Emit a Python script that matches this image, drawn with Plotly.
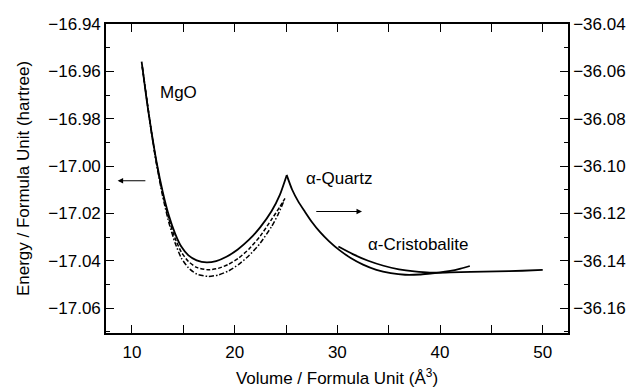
import plotly.graph_objects as go

# MgO curves (left axis, hartree)
mgo_solid_x = [10.94, 11.43, 11.92, 12.4, 13.0, 13.6, 14.2, 14.8, 15.5, 16.3, 17.27, 18.2, 19.2, 20.3,
               21.4, 22.5, 23.6, 24.4, 25.06]
mgo_solid_y = [-16.9559, -16.9720, -16.9861, -16.9985, -17.0110, -17.0210, -17.0285, -17.0340, -17.0377,
               -17.0398, -17.0407, -17.0401, -17.0383, -17.0352, -17.0311, -17.0258, -17.0190, -17.0122, -17.0040]

mgo_dash_x = [11.0, 11.92, 12.4, 13.0, 13.6, 14.2, 14.8, 15.5, 16.3, 17.4, 18.4, 19.4, 20.4, 21.4, 22.5,
              23.6, 24.4, 24.9]
mgo_dash_y = [-16.9580, -16.9863, -16.9990, -17.0120, -17.0225, -17.0305, -17.0363, -17.0403, -17.0428,
              -17.0438, -17.0432, -17.0415, -17.0388, -17.0350, -17.0295, -17.0225, -17.0172, -17.0136]

mgo_dashdot_x = [11.0, 11.92, 12.4, 13.0, 13.6, 14.2, 14.8, 15.5, 16.3, 17.4, 18.4, 19.4, 20.4, 21.4, 22.5,
                 23.6, 24.2, 24.75]
mgo_dashdot_y = [-16.9580, -16.9866, -16.9995, -17.0130, -17.0240, -17.0325, -17.0388, -17.0430, -17.0456,
                 -17.0466, -17.0460, -17.0443, -17.0415, -17.0378, -17.0325, -17.0255, -17.0207, -17.0152]

# SiO2 curves (right axis, hartree)
quartz_x = [25.06, 25.6, 26.2, 26.8, 27.5, 28.3, 29.2, 30.2, 31.3, 32.5, 33.8, 35.2, 36.6, 38.0, 39.5,
            41.0, 43.0, 45.5, 48.0, 50.0]
quartz_y = [-36.1037, -36.1100, -36.1150, -36.1190, -36.1235, -36.1278, -36.1318, -36.1355, -36.1388,
            -36.1416, -36.1438, -36.1452, -36.1459, -36.1458, -36.1452, -36.1449, -36.1447, -36.1445,
            -36.1442, -36.1438]

cristo_x = [30.1, 31.5, 33.0, 34.5, 36.0, 37.5, 39.0, 40.0, 41.0, 42.0, 42.9]
cristo_y = [-36.1340, -36.1372, -36.1400, -36.1421, -36.1436, -36.1445, -36.1450, -36.1449, -36.1443,
            -36.1433, -36.1422]

x_ticks = [10, 20, 30, 40, 50]
left_ticks = [-16.94, -16.96, -16.98, -17.00, -17.02, -17.04, -17.06]
right_ticks = [-36.04, -36.06, -36.08, -36.10, -36.12, -36.14, -36.16]

FONT = "Liberation Sans, Arial, Helvetica, sans-serif"
LW = 1.8
SM = 0.6

fig = go.Figure()
fig.add_trace(go.Scatter(x=mgo_solid_x, y=mgo_solid_y, mode="lines",
                         line=dict(color="black", width=LW, shape="spline", smoothing=SM)))
fig.add_trace(go.Scatter(x=mgo_dash_x, y=mgo_dash_y, mode="lines",
                         line=dict(color="black", width=1.5, dash="4px,2px", shape="spline", smoothing=SM)))
fig.add_trace(go.Scatter(x=mgo_dashdot_x, y=mgo_dashdot_y, mode="lines",
                         line=dict(color="black", width=1.5, dash="5px,2px,1.5px,2px", shape="spline", smoothing=SM)))
fig.add_trace(go.Scatter(x=quartz_x, y=quartz_y, mode="lines", yaxis="y2",
                         line=dict(color="black", width=LW, shape="spline", smoothing=SM)))
fig.add_trace(go.Scatter(x=cristo_x, y=cristo_y, mode="lines", yaxis="y2",
                         line=dict(color="black", width=LW, shape="spline", smoothing=SM)))

ann = [
    dict(x=14.5, y=-16.969, text="MgO", showarrow=False, font=dict(size=17, family=FONT, color="black")),
    dict(x=30.2, y=-17.0054, text="α-Quartz", showarrow=False, font=dict(size=17, family=FONT, color="black")),
    dict(x=37.9, y=-17.0330, text="α-Cristobalite", showarrow=False, font=dict(size=17, family=FONT, color="black")),
    dict(x=8.6, y=-17.0062, ax=11.45, ay=-17.0062, xref="x", yref="y", axref="x", ayref="y",
         text="", showarrow=True, arrowhead=2, arrowsize=1, arrowwidth=1.1, arrowcolor="black"),
    dict(x=32.4, y=-17.0192, ax=27.8, ay=-17.0192, xref="x", yref="y", axref="x", ayref="y",
         text="", showarrow=True, arrowhead=2, arrowsize=1, arrowwidth=1.1, arrowcolor="black"),
]

axis_common = dict(showline=True, linecolor="black", linewidth=1.5, ticks="inside", ticklen=8,
                   tickwidth=1.3, tickcolor="black", showgrid=False, zeroline=False, automargin=False,
                   tickfont=dict(size=17, family=FONT, color="black"))

fig.update_layout(
    width=633, height=388,
    margin=dict(l=106, r=65, t=24, b=55),
    paper_bgcolor="white", plot_bgcolor="white",
    showlegend=False,
    annotations=ann,
    xaxis=dict(range=[7.47, 52.46], tickvals=x_ticks, mirror="allticks",
               minor=dict(dtick=5, tick0=0, ticks="inside", ticklen=4, tickcolor="black", tickwidth=1.3),
               title=dict(text="Volume / Formula Unit (Å<sup>3</sup>)", font=dict(size=17, family=FONT, color="black"),
                          standoff=12),
               ticklabelstandoff=3,
               **axis_common),
    yaxis=dict(range=[-17.0705, -16.94], tickvals=left_ticks, tickformat=".2f",
               minor=dict(dtick=0.01, tick0=0, ticks="inside", ticklen=4, tickcolor="black", tickwidth=1.3),
               title=dict(text="Energy / Formula Unit (hartree)", font=dict(size=17, family=FONT, color="black"),
                          standoff=14),
               **axis_common),
    yaxis2=dict(range=[-36.1705, -36.04], tickvals=right_ticks, tickformat=".2f", overlaying="y", side="right",
                minor=dict(dtick=0.01, tick0=0, ticks="inside", ticklen=4, tickcolor="black", tickwidth=1.3),
                **axis_common),
)

fig.write_html("out.html")
